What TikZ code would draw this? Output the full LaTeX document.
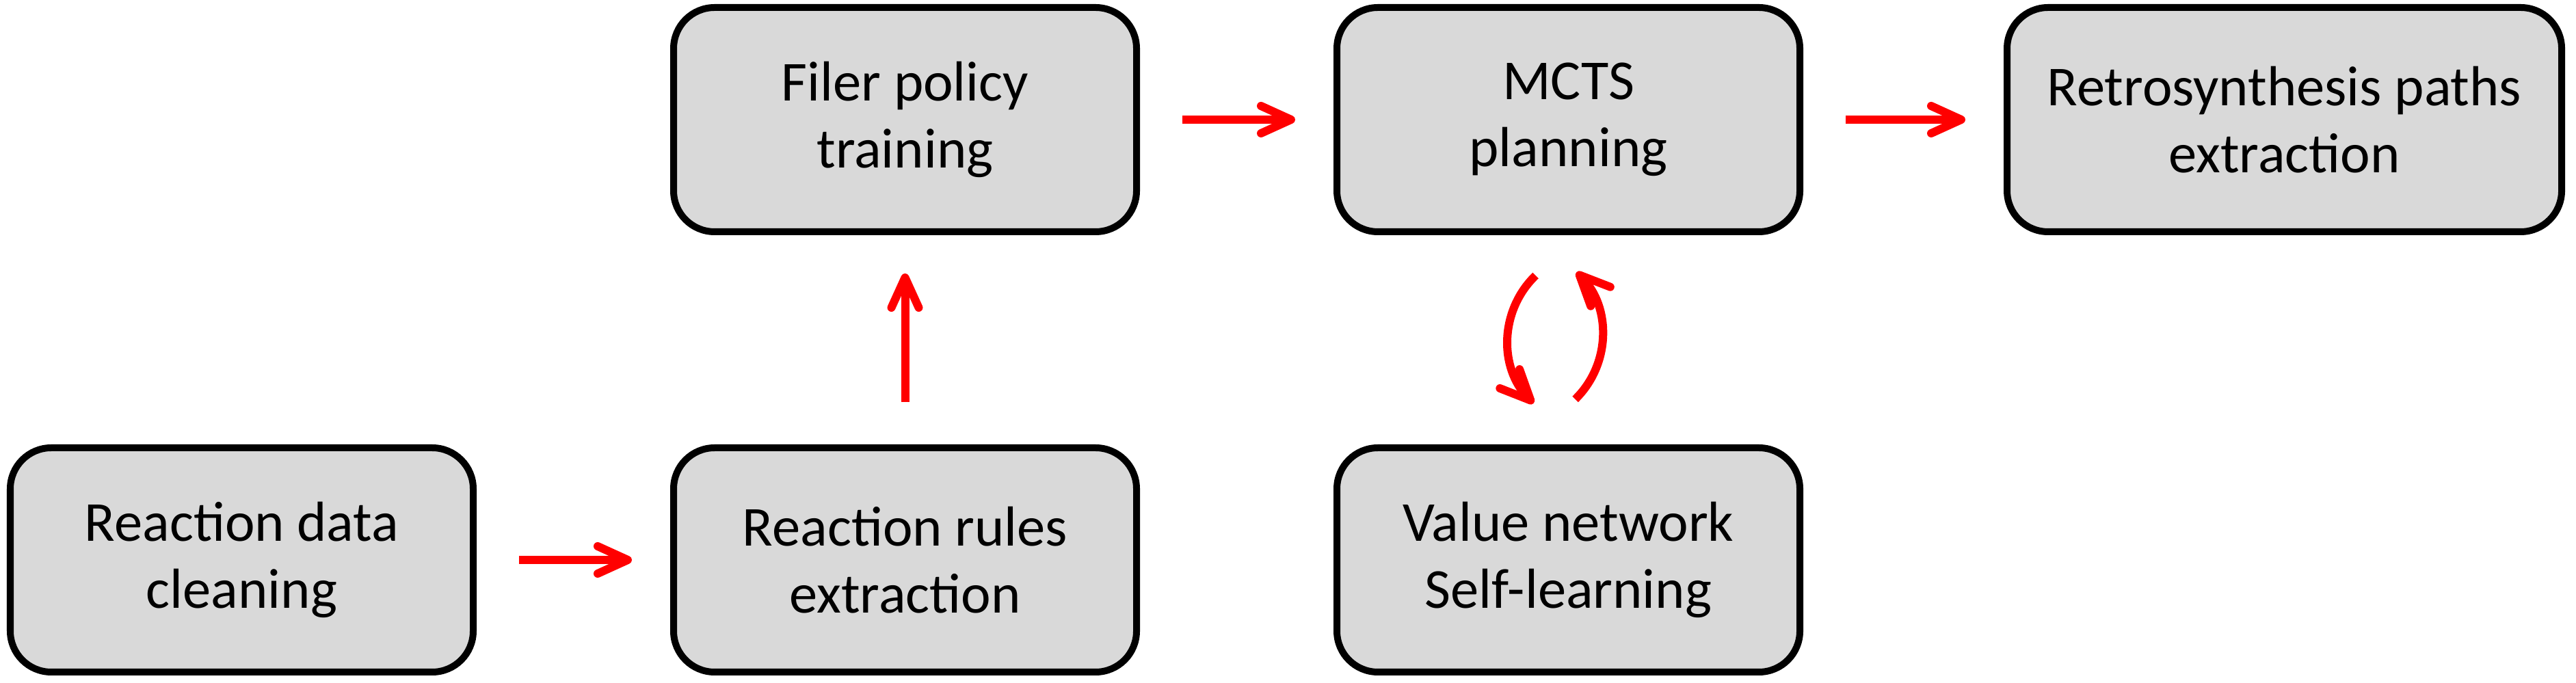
\documentclass[tikz,border=0pt]{standalone}
\usepackage{fontspec}
\setmainfont{Carlito}
\usetikzlibrary{arrows.meta,positioning}
\definecolor{boxgray}{HTML}{D9D9D9}

\begin{document}
\begin{tikzpicture}[>={Straight Barb[round,length=0.44cm,width=0.4cm]},
	stage/.style={draw,line width=0.1cm,rounded corners=0.6cm,fill=boxgray,minimum width=6.77cm,minimum height=3.28cm,font=\fontsize{23.5}{28}\selectfont},
	flow/.style={->,red,line width=0.12cm,shorten <=0.62cm,shorten >=0.56cm},
	node distance=2.83cm,align=center]
		\useasboundingbox (0,0) rectangle (37.67,9.99);
		\node[stage] (clean) at (3.535,1.8) {Reaction data\\cleaning};
		\node[stage] [right=of clean] (rules) {Reaction rules\\extraction};
		\node[stage] [above=3.06cm of rules] (filer) {Filer policy\\training};
		\node[stage] [right=of filer] (mcts) {MCTS\\planning};
		\node[stage,minimum width=8.11cm] [right=2.93cm of mcts] (retro) {Retrosynthesis paths\\extraction};
		\node[stage] [below=3.06cm of mcts] (value) {Value network\\Self-learning};
		\path[flow]
			(clean) edge (rules)
			(rules) edge (filer)
			(filer) edge (mcts)
			(mcts) edge (retro);
		% self-learning loop
		\path[flow,shorten <=0pt,shorten >=0pt]
			([xshift=-0.48cm,yshift=-0.59cm]mcts.south) edge[bend right=45] ([xshift=-0.51cm,yshift=0.6cm]value.north)
			([xshift=0.1cm,yshift=0.66cm]value.north) edge[bend right=45] ([xshift=0.12cm,yshift=-0.54cm]mcts.south);
	\end{tikzpicture}
\end{document}
